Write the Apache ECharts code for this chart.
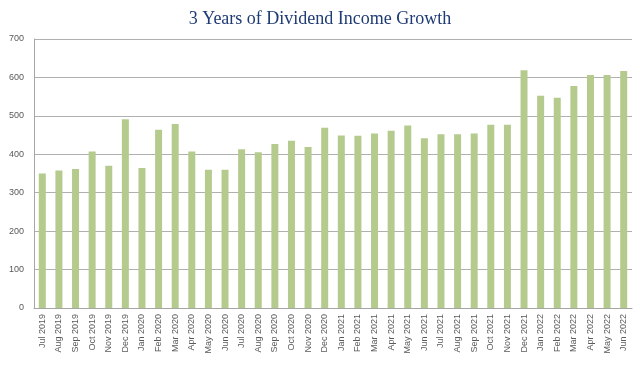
<!DOCTYPE html>
<html><head><meta charset="utf-8">
<script src="https://cdn.jsdelivr.net/npm/echarts@6/dist/echarts.min.js"></script>
<style>html,body{margin:0;padding:0;background:#fff}#c{width:640px;height:367px}</style>
</head><body><div id="c"></div>
<script>
const months = ["Jul 2019","Aug 2019","Sep 2019","Oct 2019","Nov 2019","Dec 2019","Jan 2020","Feb 2020","Mar 2020","Apr 2020","May 2020","Jun 2020","Jul 2020","Aug 2020","Sep 2020","Oct 2020","Nov 2020","Dec 2020","Jan 2021","Feb 2021","Mar 2021","Apr 2021","May 2021","Jun 2021","Jul 2021","Aug 2021","Sep 2021","Oct 2021","Nov 2021","Dec 2021","Jan 2022","Feb 2022","Mar 2022","Apr 2022","May 2022","Jun 2022"];
const income = [350,358,362,407,370,491,364,464,479,407,360,360,413,405,427,435,419,469,449,448,454,461,475,442,452,452,454,477,477,619,552,547,578,606,606,617];
const yTicks = [0,100,200,300,400,500,600,700];

const chart = echarts.init(document.getElementById('c'));
chart.setOption({
  animation:false,
  title:{text:'3 Years of Dividend Income Growth',left:'center',top:5,
    textStyle:{fontFamily:'Liberation Serif',fontSize:18,fontWeight:'normal',color:'#1f3b73'}},
  grid:{left:34,right:8,top:39,bottom:59,containLabel:false},
  xAxis:{type:'category',data:months,
    axisLine:{lineStyle:{color:'#a6a6a6'}},
    axisTick:{show:false},
    axisLabel:{rotate:90,interval:0,fontSize:9,color:'#595959',fontFamily:'Liberation Sans',margin:6}},
  yAxis:{type:'value',min:yTicks[0],max:yTicks[yTicks.length-1],interval:100,
    axisLine:{show:true,lineStyle:{color:'#a6a6a6'}},
    axisTick:{show:false},
    axisLabel:{fontSize:9,color:'#595959',fontFamily:'Liberation Sans',margin:10},
    splitLine:{lineStyle:{color:'#b0b0b0'}}},
  series:[{type:'bar',data:income,barWidth:7,itemStyle:{color:'#b5cb8e'}}]
});
</script></body></html>
